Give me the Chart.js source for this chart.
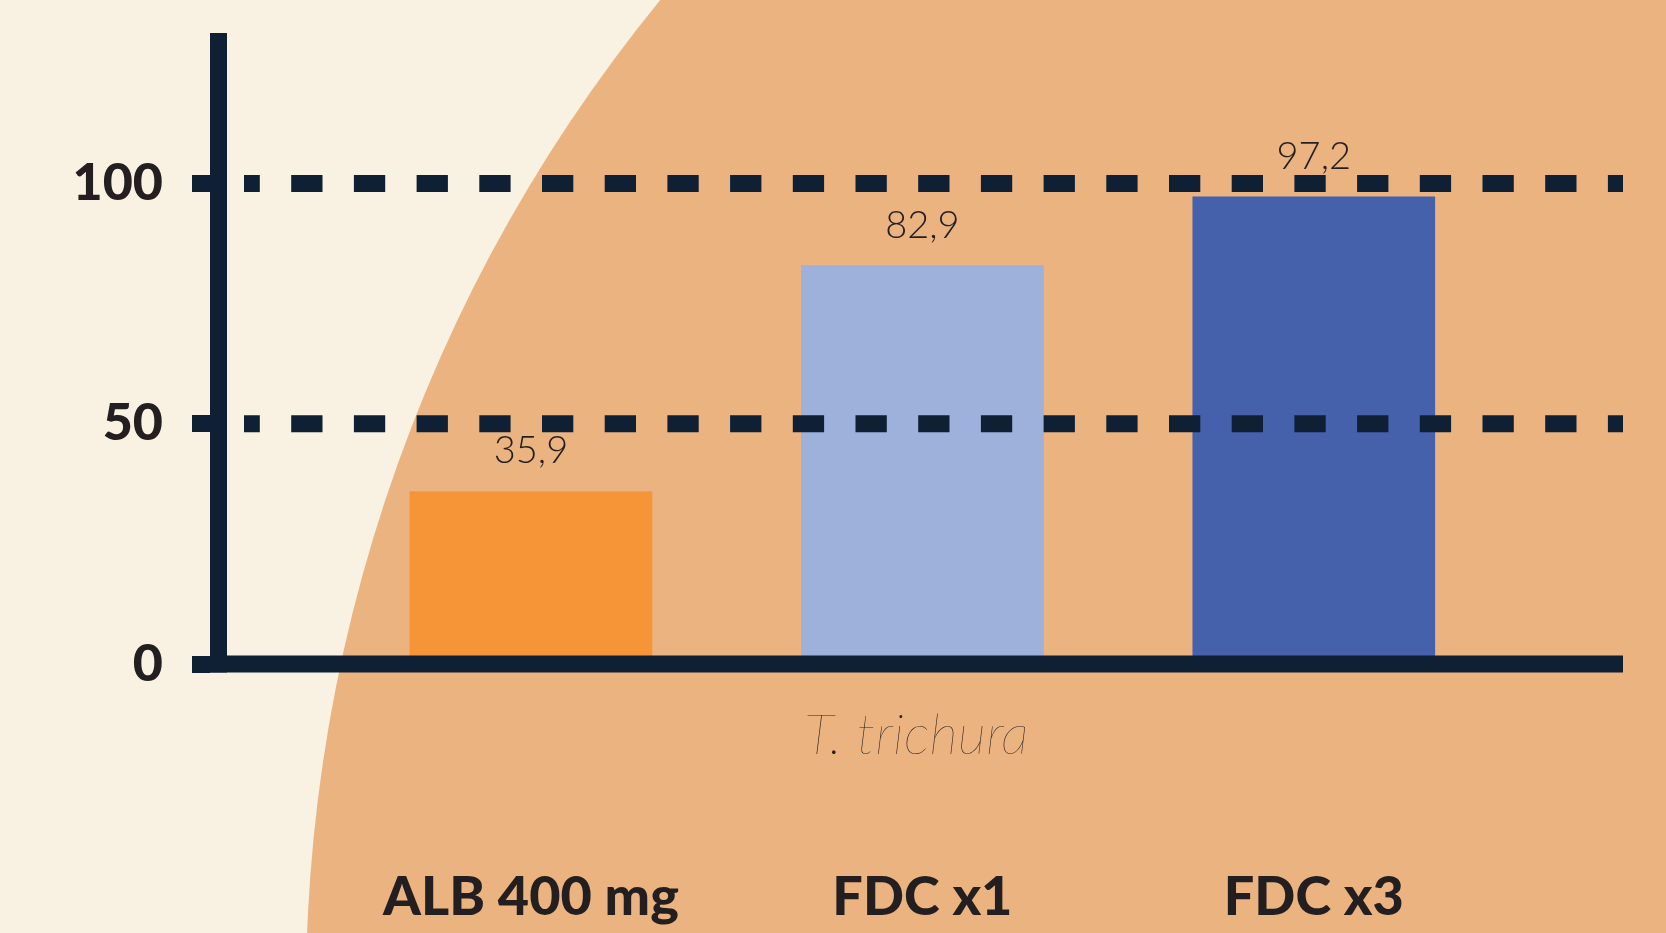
<!DOCTYPE html>
<html>
<head>
<meta charset="utf-8">
<script src="https://cdn.jsdelivr.net/npm/chart.js@4/dist/chart.umd.min.js"></script>
<style>
  html, body { margin: 0; padding: 0; background: #f9f1e2; }
  #wrap { width: 1666px; height: 933px; }
</style>
</head>
<body>
<div id="wrap"><canvas id="cure"></canvas></div>
<script>
const categories = ['ALB 400 mg', 'FDC x1', 'FDC x3'];
const cureRates = [35.9, 82.9, 97.2];
const barColors = ['#f69537', '#9db1da', '#4561ac'];
const yTicks = [0, 50, 100];
const speciesName = 'T. trichura';

const navy = '#0f2035';
const ink = '#231f20';
const cream = '#f9f1e2';
const peach = '#ebb380';

/* bars sit at 0,1,2 on a linear x scale so the axes can run past them */
const xPositions = categories.map((c, i) => i);
const xMin = -0.82;
const xMax = 2.79;

function formatComma(v) {
  return v.toFixed(1).replace('.', ',');
}

/* cream page with the big peach circle behind the chart */
const backdrop = {
  id: 'backdrop',
  beforeDraw(chart) {
    const ctx = chart.ctx;
    ctx.save();
    ctx.fillStyle = cream;
    ctx.fillRect(0, 0, chart.width, chart.height);
    ctx.fillStyle = peach;
    ctx.beginPath();
    ctx.arc(1872, 992, 1566, 0, Math.PI * 2);
    ctx.fill();
    ctx.restore();
  }
};

/* thick axis lines and dashed guides, drawn over the bars like the original */
const axisLines = {
  id: 'axisLines',
  afterDatasetsDraw(chart) {
    const {ctx, chartArea} = chart;
    const y = chart.scales.y;
    const lw = 17;
    ctx.save();
    ctx.strokeStyle = navy;
    ctx.lineWidth = lw;
    yTicks.forEach(v => {
      const py = y.getPixelForValue(v);
      ctx.beginPath();
      if (v === 0) {
        ctx.setLineDash([]);
        ctx.moveTo(chartArea.left, py);
      } else {
        ctx.setLineDash([31.3, 31.4]);
        ctx.lineDashOffset = 15.5;
        ctx.moveTo(chartArea.left + 34, py);
      }
      ctx.lineTo(chartArea.right, py);
      ctx.stroke();
    });
    ctx.setLineDash([]);
    ctx.beginPath();
    ctx.moveTo(chartArea.left + lw / 2, chartArea.top);
    ctx.lineTo(chartArea.left + lw / 2, y.getPixelForValue(0) + lw / 2);
    ctx.stroke();
    ctx.restore();
  }
};

/* the numbers above each bar, with a decimal comma */
const valueLabels = {
  id: 'valueLabels',
  afterDatasetsDraw(chart) {
    const ctx = chart.ctx;
    const meta = chart.getDatasetMeta(0);
    ctx.save();
    ctx.fillStyle = ink;
    ctx.font = '300 38px Lato';
    ctx.textAlign = 'center';
    ctx.textBaseline = 'alphabetic';
    meta.data.forEach((bar, i) => {
      ctx.fillText(formatComma(cureRates[i]), bar.x, bar.y - 28);
    });
    ctx.restore();
  }
};

new Chart(document.getElementById('cure'), {
  type: 'bar',
  data: {
    datasets: [{
      data: xPositions.map((x, i) => ({x: x, y: cureRates[i]})),
      backgroundColor: barColors,
      borderWidth: 0,
      barThickness: 242,
      xAxisID: 'x'
    }]
  },
  options: {
    responsive: true,
    maintainAspectRatio: false,
    animation: false,
    layout: { padding: { top: 33, right: 43, left: 60, bottom: 0 } },
    plugins: { legend: { display: false }, tooltip: { enabled: false } },
    scales: {
      x: {
        type: 'linear', position: 'bottom', offset: false, min: xMin, max: xMax, weight: 0,
        grid: { display: false }, border: { display: false }, ticks: { display: false },
        title: {
          display: true, text: speciesName, color: ink, padding: 0,
          font: { family: 'Lato', size: 56, weight: 200, style: 'italic' }
        },
        afterFit: s => { s.height = 106; s.paddingLeft = 0; s.paddingRight = 0; }
      },
      x2: {
        type: 'linear', position: 'bottom', offset: false, min: xMin, max: xMax, weight: 1,
        grid: { display: false, drawTicks: false, tickLength: 0 }, border: { display: false },
        afterBuildTicks: s => { s.ticks = xPositions.map(v => ({value: v})); },
        ticks: {
          callback: v => categories[v], color: ink, padding: 95, maxRotation: 0, autoSkip: false,
          font: { family: 'Lato', size: 54, weight: 900 }
        },
        afterFit: s => { s.height = 163; s.paddingLeft = 0; s.paddingRight = 0; }
      },
      y: {
        min: 0, max: 131.3, position: 'left',
        afterBuildTicks: s => { s.ticks = yTicks.map(v => ({value: v})); },
        afterFit: s => { s.width = 150; s.paddingTop = 0; s.paddingBottom = 0; },
        grid: { drawOnChartArea: false, drawTicks: true, tickLength: 18, tickWidth: 17, tickColor: navy, color: navy },
        border: { display: false },
        ticks: { padding: 29, color: ink, font: { family: 'Lato', size: 52, weight: 900 } }
      }
    }
  },
  plugins: [backdrop, axisLines, valueLabels]
});
</script>
</body>
</html>
